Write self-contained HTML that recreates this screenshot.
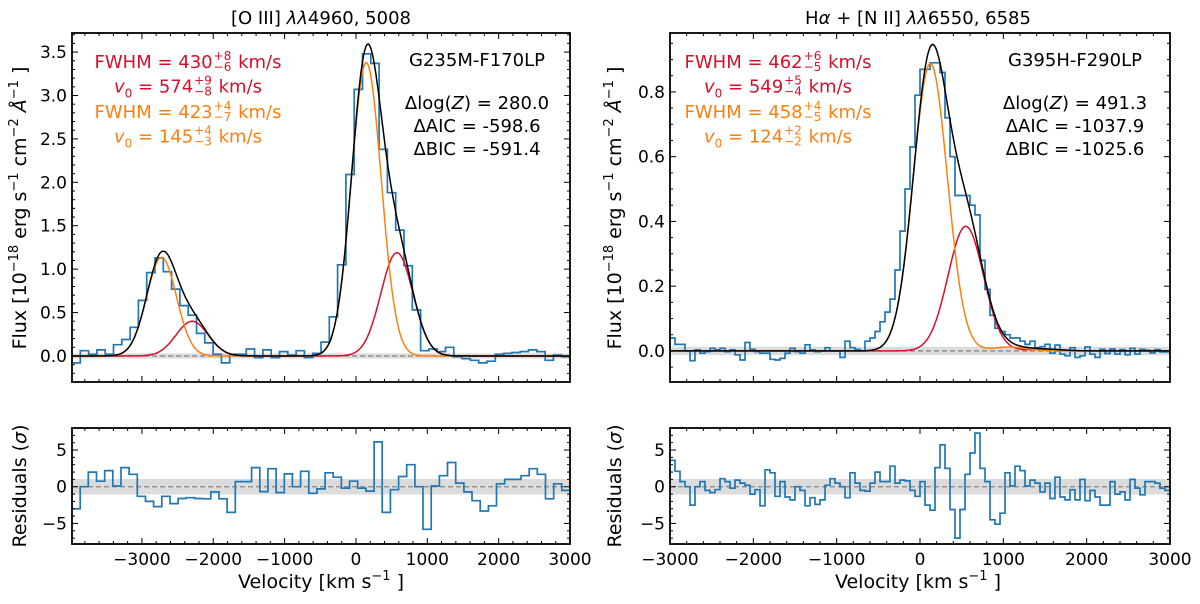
<!DOCTYPE html>
<html><head><meta charset="utf-8">
<style>
html,body{margin:0;padding:0;background:#fff;}
#wrap{position:relative;width:1200px;height:604px;overflow:hidden;font-family:"DejaVu Sans","Liberation Sans",sans-serif;}
svg text{font-family:"DejaVu Sans","Liberation Sans",sans-serif;}
.ann{position:absolute;font-size:18px;white-space:nowrap;transform:translate(-50%,-50%);line-height:1;}
.pm{display:inline-flex;flex-direction:column;vertical-align:middle;font-size:12px;line-height:11px;margin:0 1px;position:relative;top:-1px;}
.red{color:#d6102b}.org{color:#ff7f0e}.blk{color:#000}
</style></head><body>
<div id="wrap">
<svg id="plot" width="1200" height="604" xmlns="http://www.w3.org/2000/svg"></svg>

<div class="ann red" style="left:188px;top:63px">FWHM = 430<span class="pm"><span>+8</span><span>−6</span></span> km/s</div>
<div class="ann red" style="left:188px;top:88px"><i>v</i><sub style="font-size:12px">0</sub> = 574<span class="pm"><span>+9</span><span>−8</span></span> km/s</div>
<div class="ann org" style="left:188px;top:113px">FWHM = 423<span class="pm"><span>+4</span><span>−7</span></span> km/s</div>
<div class="ann org" style="left:188px;top:138px"><i>v</i><sub style="font-size:12px">0</sub> = 145<span class="pm"><span>+4</span><span>−3</span></span> km/s</div>
<div class="ann blk" style="left:477px;top:61px">G235M-F170LP</div>
<div class="ann blk" style="left:477px;top:104px">Δlog(<i>Z</i>) = 280.0</div>
<div class="ann blk" style="left:477px;top:127px">ΔAIC = -598.6</div>
<div class="ann blk" style="left:477px;top:150px">ΔBIC = -591.4</div>

<div class="ann red" style="left:778px;top:63px">FWHM = 462<span class="pm"><span>+6</span><span>−5</span></span> km/s</div>
<div class="ann red" style="left:778px;top:88px"><i>v</i><sub style="font-size:12px">0</sub> = 549<span class="pm"><span>+5</span><span>−4</span></span> km/s</div>
<div class="ann org" style="left:778px;top:113px">FWHM = 458<span class="pm"><span>+4</span><span>−5</span></span> km/s</div>
<div class="ann org" style="left:778px;top:138px"><i>v</i><sub style="font-size:12px">0</sub> = 124<span class="pm"><span>+2</span><span>−2</span></span> km/s</div>
<div class="ann blk" style="left:1075px;top:61px">G395H-F290LP</div>
<div class="ann blk" style="left:1075px;top:104px">Δlog(<i>Z</i>) = 491.3</div>
<div class="ann blk" style="left:1075px;top:127px">ΔAIC = -1037.9</div>
<div class="ann blk" style="left:1075px;top:150px">ΔBIC = -1025.6</div>
</div>
<script>
// ---- data ----
const leftFlux = [-0.08,0.06,0.02,0.07,0.02,0.13,0.19,0.33,0.64,0.96,1.13,0.97,0.77,0.58,0.47,0.26,0.15,0.02,-0.08,0.02,0.02,0.08,-0.02,0.07,-0.02,0.05,0.01,0.06,-0.02,0.03,0.16,0.45,1.05,2.09,3.07,3.48,3.37,2.38,1.88,1.45,1.04,0.53,0.06,0.08,0.05,0.1,-0.01,-0.03,-0.05,-0.08,-0.06,0.02,0.03,0.04,0.05,0.07,0.05,-0.05,0.01,-0.01];
const leftResid = [-3.0,0,2.0,0.75,2.2,0.1,2.6,1.7,-1.3,-2,-2.7,-1.3,-2.3,-1.6,-1.5,-1.6,-1.65,-0.7,-1.65,-3.5,0.7,0.7,2.6,-0.66,2.45,-0.8,1.75,0,2.1,-0.9,-0.3,1.9,1.3,-0.2,0.75,-0.2,-0.6,6.1,-3.5,-0.4,1.4,3.0,0,-5.8,0.1,1.5,3.3,0.5,-0.7,-1.9,-3.3,-2.6,0.4,1.0,1.0,1.5,2.45,1.7,-1.65,0.4,-0.5];
const rightFlux = [0.04,0.02,0.02,0,-0.03,0.003,-0.007,-0.002,0.008,0.003,0.008,-0.002,0.003,-0.012,-0.028,0.026,0.005,-0.002,-0.007,-0.007,-0.026,-0.028,-0.023,-0.007,0.008,-0.002,-0.007,0.019,0.003,-0.002,
 0,0.01,0,0,-0.02,0.03,0.01,0.005,0,0.03,0.04,0.06,0.09,0.12,0.16,0.25,0.37,0.5,0.63,0.79,0.87,0.87,0.89,0.89,0.86,0.72,0.6,0.48,0.48,0.48,0.45,0.42,0.28,0.19,0.11,0.07,0.06,0.05,0.04,0.04,
 0.03,0.02,0.03,0.01,0.013,0.02,-0.007,0.018,-0.01,-0.015,0.01,-0.02,-0.015,0.012,-0.01,-0.02,0.005,-0.008,0.006,-0.01,0.004,-0.012,0.008,-0.01,0.005,0.002,-0.006,0.004,-0.003,-0.003];
const rightResid = [3.6,2.1,0.7,0,-2.5,0,0.7,-0.5,-0.8,-0.4,1.1,0.7,-0.2,0.9,0.5,0.2,-1,-0.4,-2.6,2.3,1.9,-1.3,0.7,-1.4,-1.8,0,-0.5,-2.6,-1.5,-2.4,-1.8,0.2,1.1,0.5,0,-1.5,1.9,0.5,-0.5,-0.6,0.5,2,0.7,0.7,2.8,0.5,0.9,0.8,-0.5,-1.3,0.7,-2.5,-3.2,2.6,5.7,2.5,-3.1,-7,-3.1,1.7,4.6,7.3,2.5,0.7,-4.5,-5.1,-3.6,1.9,0.1,2.8,2.2,0.1,0.9,0.5,-0.7,0.5,-1.6,1.3,-1.4,-1.8,-0.4,-1.8,1,-1.9,-0.5,-1.4,-2.5,-2.5,0.7,-1,-0.7,-1.8,1,-0.2,-1.1,0.7,0.7,0.5,-0.2,-0.5];
// model component parameters: [center km/s, effective FWHM km/s, peak amplitude]
const leftOrange = [145, 490, 3.38];
const leftRed = [574, 530, 1.19];
const leftDoublet = [-2870, 0.336]; // [velocity offset of 4960 line, flux ratio]
const rightOrange = [124, 480, 0.888];
const rightRed = [549, 500, 0.385];
const rightNII = [944, 0.0135];
const leftYTicks = [0,0.5,1,1.5,2,2.5,3,3.5];
const rightYTicks = [0,0.2,0.4,0.6,0.8];
const residTicks = [-5,0,5];
const leftXTicks = [-3000,-2000,-1000,0,1000,2000,3000];
const rightXTicks = [-3000,-2000,-1000,0,1000,2000,3000];

const NS='http://www.w3.org/2000/svg';
const svg=document.getElementById('plot');
function mk(tag,attrs,parent){const e=document.createElementNS(NS,tag);for(const k in attrs)e.setAttribute(k,attrs[k]);(parent||svg).appendChild(e);return e;}
function axis(x0,x1,y0,y1,d0,d1,r0,r1){return{x0,x1,y0,y1,sx:v=>x0+(v-d0)/(d1-d0)*(x1-x0),sy:v=>y1-(v-r0)/(r1-r0)*(y1-y0),d0,d1,r0,r1};}
function gauss(v,p){const s=p[1]/2.3548;return p[2]*Math.exp(-0.5*((v-p[0])/s)**2);}
const fmt=v=>(v<0?'−':'')+Math.abs(v);

function frame(ax,name,xt,xminor,yt,yminor,ydec,xlabels){
  const g=mk('g',{});
  
  
  const L=6,l=3;
  for(let v=Math.ceil(ax.r0/yminor)*yminor;v<=ax.r1+1e-9;v+=yminor){const y=ax.sy(v);
    const major=yt.some(t=>Math.abs(t-v)<1e-6);const len=major?L:l;
    mk('line',{x1:ax.x0,x2:ax.x0+len,y1:y,y2:y,stroke:'#000','stroke-width':1},g);
    mk('line',{x1:ax.x1,x2:ax.x1-len,y1:y,y2:y,stroke:'#000','stroke-width':1},g);}
  yt.forEach(v=>{const t=mk('text',{x:ax.x0-5,y:ax.sy(v)+6,'text-anchor':'end','font-size':17},g);t.textContent=ydec?v.toFixed(ydec):fmt(v);
    });
  for(let v=Math.ceil(ax.d0/xminor)*xminor;v<=ax.d1+1e-9;v+=xminor){const x=ax.sx(v);
    const major=xt.some(t=>Math.abs(t-v)<1e-6);const len=major?L:l;
    mk('line',{x1:x,x2:x,y1:ax.y1,y2:ax.y1-len,stroke:'#000','stroke-width':1},g);
    mk('line',{x1:x,x2:x,y1:ax.y0,y2:ax.y0+len,stroke:'#000','stroke-width':1},g);}
  if(xlabels)xt.forEach(v=>{const t=mk('text',{x:ax.sx(v),y:ax.y1+21,'text-anchor':'middle','font-size':17},g);t.textContent=fmt(v);
    });
  const b=mk('rect',{x:ax.x0,y:ax.y0,width:ax.x1-ax.x0,height:ax.y1-ax.y0,fill:'none',stroke:'#000','stroke-width':1.8},g);
  
}
function band(ax,h,name){const r=mk('rect',{x:ax.x0,y:ax.sy(h),width:ax.x1-ax.x0,height:ax.sy(-h)-ax.sy(h),fill:'#dcdcdc'});
  
  const l=mk('line',{x1:ax.x0,x2:ax.x1,y1:ax.sy(0),y2:ax.sy(0),stroke:'#888','stroke-width':1.3,'stroke-dasharray':'5,3'});
  }
function steps(ax,vals,name){const n=vals.length,w=(ax.d1-ax.d0)/n;let d='';
  vals.forEach((v,i)=>{const xa=ax.sx(ax.d0+i*w),xb=ax.sx(ax.d0+(i+1)*w),y=Math.max(ax.y0,Math.min(ax.y1,ax.sy(v)));d+=(i?'L':'M')+xa.toFixed(1)+','+y.toFixed(1)+'L'+xb.toFixed(1)+','+y.toFixed(1);});
  const p=mk('path',{d,fill:'none',stroke:'#1f77b4','stroke-width':1.7});
  }
function curve(ax,fn,color,name){let d='';const N=400;
  for(let i=0;i<=N;i++){const v=ax.d0+(ax.d1-ax.d0)*i/N;d+=(i?'L':'M')+ax.sx(v).toFixed(1)+','+ax.sy(fn(v)).toFixed(1);}
  const p=mk('path',{d,fill:'none',stroke:color,'stroke-width':1.5});
  }

// LEFT
const LT=axis(72,570,33,382,-3980,3000,-0.30,3.72);
const LB=axis(72,570,428,544,-3980,3000,-7.8,8);
band(LT,0.03,'left-flux-noise-band');
steps(LT,leftFlux,'left-flux-histogram');
const lo=v=>gauss(v,leftOrange)+leftDoublet[1]*gauss(v-leftDoublet[0],leftOrange);
const lr=v=>gauss(v,leftRed)+leftDoublet[1]*gauss(v-leftDoublet[0],leftRed);
curve(LT,lr,'#d6102b','left-red-component');
curve(LT,lo,'#ff7f0e','left-orange-component');
curve(LT,v=>lo(v)+lr(v),'#000','left-total-model');
frame(LT,'left-top',leftXTicks,200,leftYTicks,0.1,1,false);
band(LB,1.05,'left-residual-band');
steps(LB,leftResid,'left-residual-histogram');
frame(LB,'left-bottom',leftXTicks,200,residTicks,1,0,true);

// RIGHT
const RT=axis(670,1170,33,382,-3000,3000,-0.096,0.982);
const RB=axis(670,1170,428,544,-3000,3000,-7.8,8);
band(RT,0.013,'right-flux-noise-band');
steps(RT,rightFlux,'right-flux-histogram');
const ro=v=>gauss(v,rightOrange)+rightNII[1]*gauss(v-rightNII[0],rightOrange);
const rr=v=>gauss(v,rightRed)+rightNII[1]*gauss(v-rightNII[0],rightRed);
curve(RT,rr,'#d6102b','right-red-component');
curve(RT,ro,'#ff7f0e','right-orange-component');
curve(RT,v=>ro(v)+rr(v),'#000','right-total-model');
frame(RT,'right-top',rightXTicks,200,rightYTicks,0.05,1,false);
band(RB,1.05,'right-residual-band');
steps(RB,rightResid,'right-residual-histogram');
frame(RB,'right-bottom',rightXTicks,200,residTicks,1,0,true);

// labels
function txt(x,y,html,size,name,rot){const t=mk('text',{x,y,'text-anchor':'middle','font-size':size});if(rot)t.setAttribute('transform','rotate(-90 '+x+' '+y+')');t.innerHTML=html;
  return t;}
const sup=s=>'<tspan dy="-8" font-size="13">'+s+'</tspan><tspan dy="8"> </tspan>';
txt(321,24,'[O III] <tspan font-style="italic">λλ</tspan>4960, 5008',18,'left-title');
txt(918,24,'H<tspan font-style="italic">α</tspan> + [N II] <tspan font-style="italic">λλ</tspan>6550, 6585',18,'right-title');
const flux='Flux [10'+sup('−18')+'erg s'+sup('−1')+'cm'+sup('−2')+'<tspan font-style="italic">Å</tspan>'+sup('−1')+']';
txt(26,208,flux,19,'left-y-axis-title',true);
txt(621,208,flux,19,'right-y-axis-title',true);
txt(26,486,'Residuals (<tspan font-style="italic">σ</tspan>)',19,'left-resid-y-axis-title',true);
txt(621,486,'Residuals (<tspan font-style="italic">σ</tspan>)',19,'right-resid-y-axis-title',true);
txt(321,588,'Velocity [km s'+sup('−1')+']',19,'left-x-axis-title');
txt(918,588,'Velocity [km s'+sup('−1')+']',19,'right-x-axis-title');
</script>
</body></html>
